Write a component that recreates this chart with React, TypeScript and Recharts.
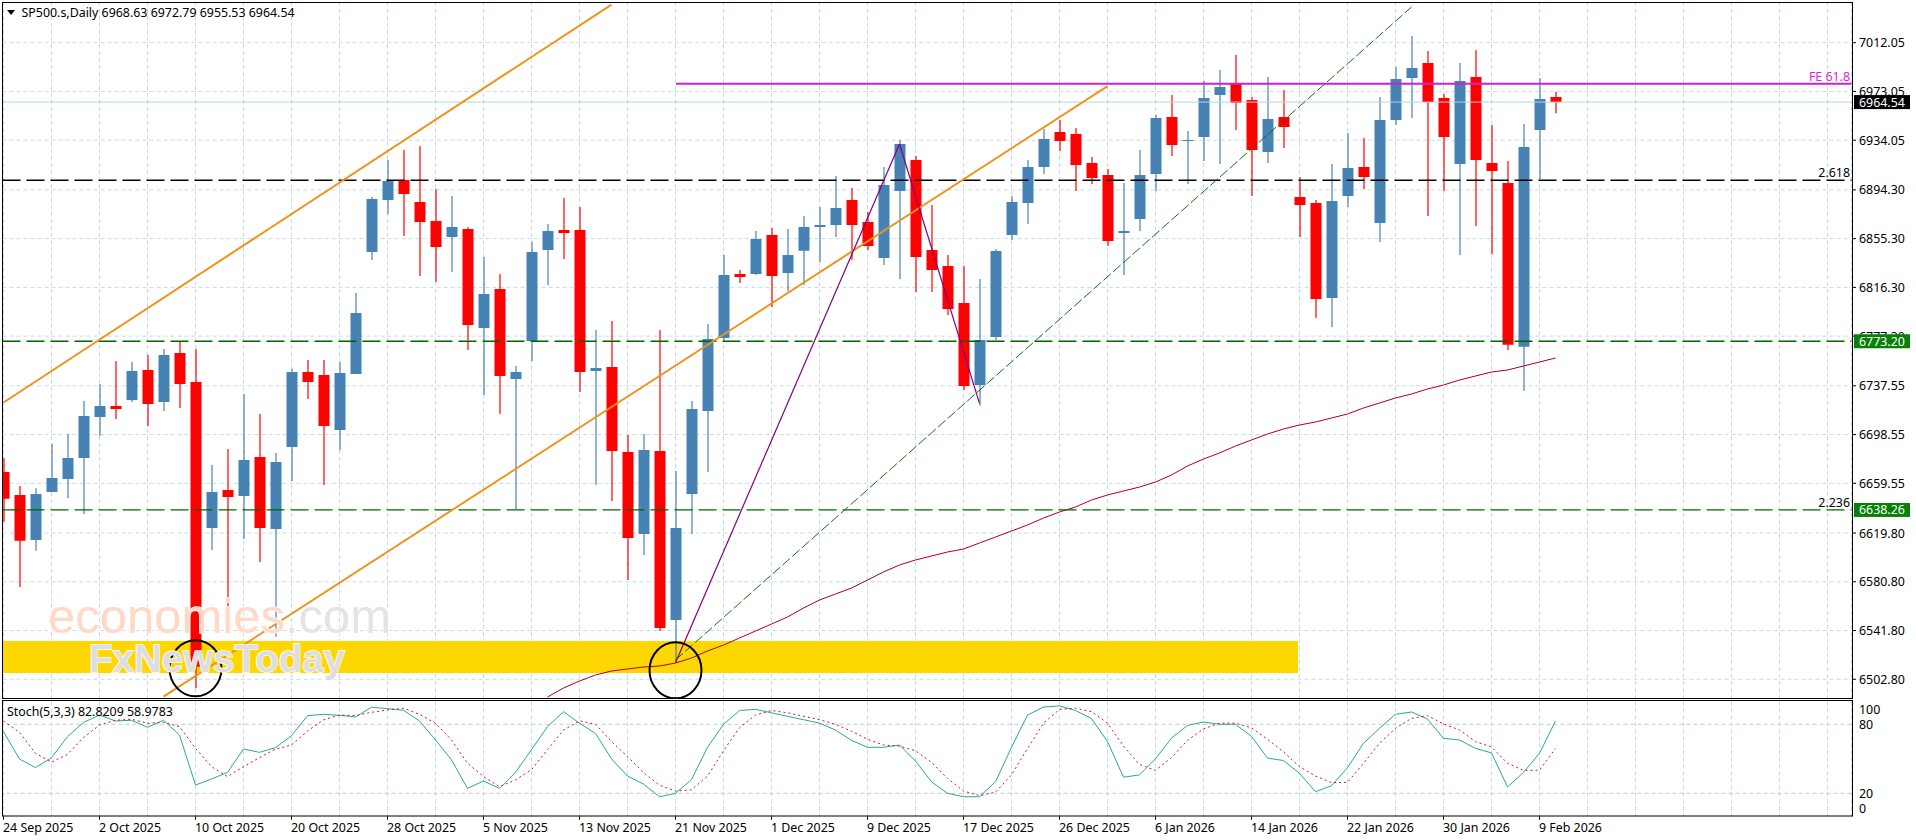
import {
  ComposedChart, Bar, Line, XAxis, YAxis, CartesianGrid, ReferenceLine, ReferenceArea, ReferenceDot,
} from "recharts"

const FONT = "'Noto Sans', sans-serif"
const GRID_COLOR = "#C4DDE5"
const UP_COLOR = "#4682B4"
const DOWN_COLOR = "#FF0000"

const BAR_SLOTS = 116
const GRID_EVERY = 3
const LABEL_EVERY = 6
const MA_START = 34

const dateLabels = [
  "24 Sep 2025", "2 Oct 2025", "10 Oct 2025", "20 Oct 2025", "28 Oct 2025", "5 Nov 2025",
  "13 Nov 2025", "21 Nov 2025", "1 Dec 2025", "9 Dec 2025", "17 Dec 2025", "26 Dec 2025",
  "6 Jan 2026", "14 Jan 2026", "22 Jan 2026", "30 Jan 2026", "9 Feb 2026",
]

const priceTicks = [
  7012.05, 6973.05, 6934.05, 6894.3, 6855.3, 6816.3, 6777.3, 6737.55, 6698.55, 6659.55, 6619.8, 6580.8, 6541.8, 6502.8,
]
const stochTicks = [0, 20, 80, 100]

const opens = [
  6668.6, 6650.2, 6614.2, 6652.6, 6663.0, 6679.8, 6712.6, 6721.4, 6726.2, 6750.2,
  6724.6, 6763.8, 6740.6, 6623.8, 6654.2, 6649.4, 6680.6, 6623.0, 6688.6, 6748.6,
  6746.2, 6702.2, 6747.0, 6844.6, 6886.2, 6902.2, 6884.6, 6869.4, 6856.6, 6863.0,
  6783.8, 6815.0, 6743.0, 6773.4, 6846.2, 6862.2, 6862.2, 6749.4, 6752.6, 6684.6,
  6619.0, 6685.4, 6550.2, 6651.0, 6717.4, 6775.8, 6827.0, 6827.0, 6858.2, 6827.8,
  6845.6, 6864.6, 6866.2, 6886.2, 6868.6, 6839.8, 6893.4, 6918.2, 6846.2, 6833.4,
  6803.8, 6738.2, 6776.6, 6858.2, 6883.8, 6912.6, 6940.6, 6939.0, 6915.8, 6906.2,
  6859.8, 6871.0, 6907.0, 6952.6, 6933.6, 6936.6, 6970.2, 6979.0, 6966.2, 6924.6,
  6952.6, 6888.6, 6883.8, 6807.8, 6889.4, 6912.6, 6867.8, 6950.2, 6983.8, 6995.8,
  6967.8, 6915.0, 6984.6, 6915.8, 6899.8, 6768.8, 6942.2, 6968.63,
]
const highs = [
  6679.6, 6657.4, 6655.6, 6691.0, 6699.0, 6725.4, 6739.0, 6757.4, 6756.8, 6762.2,
  6767.0, 6773.4, 6767.0, 6674.2, 6687.0, 6731.0, 6715.0, 6683.8, 6751.0, 6758.2,
  6758.2, 6756.6, 6811.8, 6888.8, 6918.2, 6926.2, 6929.4, 6895.0, 6889.4, 6864.6,
  6840.6, 6827.0, 6753.4, 6852.6, 6867.0, 6887.8, 6880.6, 6782.2, 6789.4, 6698.2,
  6699.0, 6782.2, 6669.4, 6725.4, 6787.0, 6842.2, 6830.2, 6861.4, 6863.8, 6863.0,
  6873.4, 6880.6, 6905.4, 6895.8, 6876.6, 6912.6, 6934.2, 6921.4, 6882.2, 6842.2,
  6833.4, 6823.0, 6847.0, 6889.4, 6918.2, 6943.0, 6950.2, 6943.8, 6920.6, 6911.0,
  6899.8, 6926.2, 6954.2, 6970.2, 6941.4, 6981.4, 6990.2, 7002.2, 6968.6, 6984.6,
  6974.2, 6904.6, 6886.2, 6915.0, 6939.8, 6935.8, 6968.6, 6992.6, 7017.4, 7005.4,
  6971.0, 6995.8, 7006.2, 6946.2, 6917.4, 6947.0, 6983.8, 6972.79,
]
const lows = [
  6628.8, 6576.6, 6605.6, 6652.6, 6647.8, 6635.0, 6697.4, 6711.0, 6724.6, 6705.4,
  6717.4, 6719.8, 6495.8, 6606.2, 6560.8, 6615.0, 6596.6, 6536.8, 6661.4, 6727.0,
  6658.2, 6686.2, 6747.0, 6838.2, 6875.0, 6857.4, 6825.4, 6820.6, 6828.6, 6766.2,
  6730.2, 6715.0, 6639.0, 6757.4, 6818.2, 6839.0, 6732.6, 6658.2, 6645.4, 6582.2,
  6602.2, 6541.4, 6516.0, 6619.0, 6668.6, 6772.6, 6819.8, 6826.2, 6800.6, 6813.4,
  6818.2, 6836.6, 6856.6, 6838.2, 6846.2, 6834.2, 6823.0, 6812.6, 6812.6, 6794.2,
  6734.2, 6721.7, 6774.2, 6854.2, 6867.0, 6907.0, 6925.4, 6893.4, 6899.0, 6849.4,
  6826.2, 6861.4, 6893.4, 6921.4, 6899.0, 6917.4, 6915.0, 6942.2, 6889.4, 6915.8,
  6927.8, 6856.6, 6791.8, 6784.6, 6880.6, 6895.0, 6852.6, 6946.2, 6951.8, 6873.4,
  6893.4, 6842.2, 6865.4, 6843.0, 6766.2, 6733.4, 6903.0, 6955.53,
]
const closes = [
  6647.2, 6613.6, 6651.0, 6663.8, 6679.8, 6713.4, 6721.4, 6719.0, 6749.4, 6723.0,
  6762.2, 6739.0, 6512.8, 6652.6, 6648.6, 6678.2, 6623.8, 6676.6, 6748.6, 6740.6,
  6705.4, 6747.8, 6795.8, 6887.0, 6901.4, 6891.0, 6868.6, 6848.6, 6864.6, 6786.2,
  6811.0, 6745.4, 6748.6, 6844.6, 6861.4, 6859.8, 6748.6, 6751.8, 6685.4, 6615.8,
  6686.2, 6543.8, 6623.8, 6719.0, 6775.0, 6826.2, 6824.6, 6855.0, 6825.4, 6842.2,
  6864.6, 6866.2, 6879.8, 6866.2, 6849.4, 6898.2, 6931.0, 6840.6, 6830.2, 6799.0,
  6737.4, 6774.2, 6845.4, 6884.6, 6912.6, 6935.0, 6933.4, 6914.2, 6903.8, 6853.4,
  6861.4, 6906.2, 6951.8, 6930.2, 6934.2, 6967.8, 6976.6, 6963.8, 6926.2, 6951.0,
  6944.6, 6882.2, 6807.0, 6885.4, 6911.8, 6904.6, 6950.2, 6983.0, 6991.8, 6964.6,
  6936.6, 6981.4, 6918.2, 6909.4, 6770.4, 6928.6, 6967.0, 6964.54,
]

// moving average, only on screen from MA_START on
const maValues = [
  6488.6, 6495.8, 6501.4, 6506.2, 6509.4, 6511.0, 6512.6, 6513.4, 6515.8, 6519.8,
  6525.4, 6530.2, 6535.8, 6541.4, 6547.0, 6552.6, 6559.8, 6566.2, 6571.0, 6575.8,
  6582.2, 6588.6, 6594.2, 6598.2, 6601.4, 6604.6, 6607.0, 6611.8, 6616.6, 6621.4,
  6626.2, 6631.8, 6636.6, 6640.6, 6646.2, 6650.2, 6653.4, 6656.6, 6660.6, 6666.2,
  6673.4, 6679.0, 6683.8, 6689.4, 6694.2, 6699.0, 6703.0, 6706.2, 6708.6, 6711.8,
  6715.0, 6719.8, 6723.8, 6727.8, 6731.0, 6735.0, 6738.2, 6742.2, 6745.4, 6748.6,
  6750.2, 6753.4, 6756.6, 6759.8,
]

const stochK = [
  73.6, 49.8, 42.3, 51, 69.3, 81.7, 88, 82.9, 83.5, 77.4,
  83.5, 70.7, 27.2, 32.4, 38.2, 58.5, 55.6, 59.7, 70.1, 87.5,
  88.7, 87.8, 86.4, 94.8, 93.6, 92.2, 82.9, 66.4, 49, 24.3,
  30.7, 24.3, 38.2, 58, 78, 91, 81, 72, 50, 35,
  28, 17, 20, 32, 60, 80, 92, 93, 90, 87,
  84, 81, 75, 66, 60, 60, 62, 48, 30, 20,
  17, 17, 30, 60, 88, 95, 96, 92, 85, 65,
  34, 36, 50, 68, 79, 82, 80, 80, 69.5, 50.6,
  48.5, 37.4, 21.4, 26.6, 42.3, 63.5, 76.5, 88.7, 90.7, 84.6,
  67.8, 66.4, 59.1, 55.1, 25.5, 38.2, 54.8, 82.82,
]
const stochD = [
  82.9, 73, 54.8, 47, 53.9, 68.4, 79.4, 83.5, 84.4, 80.9,
  81.7, 78, 59.1, 43.2, 34.5, 43.2, 51, 58.5, 62, 74.2,
  83.8, 88.1, 87.5, 90.4, 92.5, 93.9, 88.7, 80.9, 66.4, 46.1,
  34.5, 25.8, 31.6, 40.5, 58, 75, 83, 80, 65, 52,
  38, 27, 22, 23, 35, 57, 77, 88, 92, 90,
  87, 84, 80, 74, 67, 62, 61, 57, 47, 33,
  22, 18, 21, 36, 59, 81, 93, 94, 91, 81,
  61, 45, 40, 51, 66, 76, 81, 81, 77, 67,
  56, 43.2, 35, 29.3, 29.5, 46.1, 63.5, 76.5, 85.2, 87.5,
  80.3, 75.1, 64.9, 60.3, 46.1, 40, 40, 58.98,
]

const lastPrice = 6964.54
const level2618 = 6902
const level2236 = 6638.26
const level6773 = 6773.2
const levelFE = 6979.25

// tags sit after the plain ticks so they paint over them
const tagColors: Record<number, string> = {
  [lastPrice]: "#000",
  [level6773]: "#087F08",
  [level2236]: "#087F08",
}
const axisTicks = [...priceTicks, lastPrice, level6773, level2236]

const rows = Array.from({ length: BAR_SLOTS }, (_, i) => ({
  i,
  open: opens[i],
  high: highs[i],
  low: lows[i],
  close: closes[i],
  range: highs[i] != null ? [lows[i], highs[i]] : null,
  ma: i >= MA_START ? maValues[i - MA_START] : null,
  k: stochK[i],
  d: stochD[i],
}))

const gridTicks = rows.filter(r => r.i % GRID_EVERY === 0).map(r => r.i)

function Candle(props: any) {
  const { x, y, width, height, payload } = props
  const d = payload || props
  if (d.open == null || !height) return null
  const up = d.close >= d.open
  const color = up ? UP_COLOR : DOWN_COLOR
  const perUnit = height / (d.high - d.low)
  const top = y + (d.high - Math.max(d.open, d.close)) * perUnit
  const bodyH = Math.abs(d.open - d.close) * perUnit
  const cx = x + width / 2
  return (
    <g>
      <line x1={cx} x2={cx} y1={y} y2={y + height} stroke={color} strokeWidth={1.2} />
      <rect x={x} y={top} width={width} height={Math.max(bodyH, 1)} fill={color} />
    </g>
  )
}

function PriceTick({ x, y, payload }: any) {
  const tag = tagColors[payload.value]
  if (tag) {
    return (
      <g>
        <rect x={x + 2.5} y={y - 7} width={56} height={14} fill={tag} />
        <text x={x + 7.5} y={y + 4.5} fontSize={12.4} fontFamily={FONT} fill="#fff">{payload.value.toFixed(2)}</text>
      </g>
    )
  }
  return (
    <g>
      <line x1={x + 1} x2={x + 4.5} y1={y} y2={y} stroke="#000" />
      <text x={x + 7.5} y={y + 4.5} fontSize={12.4} fontFamily={FONT} fill="#000">{payload.value.toFixed(2)}</text>
    </g>
  )
}

function StochTick({ x, y, payload }: any) {
  const shift = payload.value === 100 ? 8 : payload.value === 0 ? -8 : 0
  return (
    <text x={x + 7.5} y={y + 4.5 + shift} fontSize={12.4} fontFamily={FONT} fill="#000">{payload.value}</text>
  )
}

function DateTick({ x, y, payload }: any) {
  if (payload.value % LABEL_EVERY !== 0) return null
  const label = dateLabels[payload.value / LABEL_EVERY]
  if (!label) return null
  return (
    <g>
      <line x1={x} x2={x} y1={y} y2={y + 3.5} stroke="#000" />
      <text x={x - 0.5} y={y + 16} fontSize={12.4} fontFamily={FONT} fill="#000">{label}</text>
    </g>
  )
}

function levelCaption(caption: string, color: string) {
  return (props: any) => {
    const vb = props.viewBox
    if (!vb) return null
    return (
      <text x={vb.x + vb.width - 1.5} y={vb.y - 3} textAnchor="end" fontSize={12.4} fontFamily={FONT} fill={color}>{caption}</text>
    )
  }
}

function Ring({ cx, cy }: any) {
  return <ellipse cx={cx} cy={cy} rx={26} ry={28} fill="none" stroke="#000" strokeWidth={2} />
}

// band stops part way through its last bar
function Band({ x, y, width, height }: any) {
  return <rect x={x} y={y} width={width - 9.5} height={height} fill="#FFD700" />
}

export default function App() {
  return (
    <div style={{ position: "fixed", left: 0, top: 0, width: 1916, height: 840, background: "#fff", overflow: "hidden" }}>
      <div style={{ position: "absolute", left: -10, top: 0 }}>
        <ComposedChart width={1926} height={698} data={rows} margin={{ top: 2, right: 0, bottom: 0, left: 5.5 }} barSize={11}>
          <XAxis dataKey="i" type="category" scale="band" ticks={gridTicks} interval={0} hide />
          <YAxis
            orientation="right" width={64.5} domain={[6487.81, 7044.61]} ticks={axisTicks} interval={0}
            axisLine={false} tickLine={false} tickSize={0} tickMargin={0} tick={<PriceTick />} allowDataOverflow
          />
          <CartesianGrid stroke={GRID_COLOR} strokeDasharray="4 3" horizontalValues={priceTicks} />
          <ReferenceArea x1={0} x2={81} y1={6533.4} y2={6507.8} shape={Band} ifOverflow="visible" />
          <ReferenceLine y={lastPrice} stroke="#ADD8E6" />
          <Bar dataKey="range" shape={Candle} isAnimationActive={false} />
          <Line dataKey="ma" stroke="#B00020" strokeWidth={1} dot={false} isAnimationActive={false} />
          <ReferenceLine y={level2618} stroke="#000" strokeWidth={1.3} strokeDasharray="18 6" strokeDashoffset={17} label={levelCaption("2.618", "#000")} />
          <ReferenceLine y={level6773} stroke="#006400" strokeWidth={1.3} strokeDasharray="18 6" strokeDashoffset={17} />
          <ReferenceLine y={level2236} stroke="#006400" strokeWidth={1.3} strokeDasharray="18 6" strokeDashoffset={17} label={levelCaption("2.236", "#000")} />
          <ReferenceLine y={levelFE} stroke="#CC22CC" strokeWidth={2} strokeDasharray="1175.5 2000" label={levelCaption("FE 61.8", "#E020E0")} />
          <ReferenceLine segment={[{ x: 0, y: 6724.2 }, { x: 38, y: 7042.5 }]} stroke="#F0921E" strokeWidth={2} ifOverflow="visible" />
          <ReferenceLine segment={[{ x: 10, y: 6488.9 }, { x: 69, y: 6977.25 }]} stroke="#F0921E" strokeWidth={2} ifOverflow="visible" />
          <ReferenceLine segment={[{ x: 42, y: 6516 }, { x: 56, y: 6931 }]} stroke="#800080" strokeWidth={1.2} ifOverflow="visible" />
          <ReferenceLine segment={[{ x: 56, y: 6931 }, { x: 61, y: 6723.5 }]} stroke="#800080" strokeWidth={1.2} ifOverflow="visible" />
          <ReferenceLine segment={[{ x: 42, y: 6518.2 }, { x: 88, y: 7040.6 }]} stroke="#1A6A1A" strokeWidth={1} strokeDasharray="10 3" ifOverflow="visible" />
          <ReferenceDot x={12} y={6511.6} shape={Ring} ifOverflow="visible" />
          <ReferenceDot x={42} y={6510} shape={Ring} ifOverflow="visible" />
        </ComposedChart>
      </div>

      <div style={{ position: "absolute", left: -10, top: 700 }}>
        <ComposedChart width={1926} height={140} data={rows} margin={{ top: 1.3, right: 0, bottom: 0, left: 5.5 }}>
          <XAxis
            dataKey="i" type="category" scale="band" ticks={gridTicks} interval={0} height={23.7}
            axisLine={false} tickLine={false} tickSize={0} tickMargin={0} tick={<DateTick />}
          />
          <YAxis
            orientation="right" width={64.5} domain={[0, 100]} ticks={stochTicks} interval={0}
            axisLine={false} tickLine={false} tickSize={0} tickMargin={0} tick={<StochTick />}
          />
          <CartesianGrid stroke={GRID_COLOR} strokeDasharray="4 3" horizontal={false} />
          <ReferenceLine y={80} stroke="#C8C8C8" strokeDasharray="4 3" />
          <ReferenceLine y={20} stroke="#C8C8C8" strokeDasharray="4 3" />
          <Line dataKey="k" stroke="#2BA5A0" strokeWidth={1} dot={false} isAnimationActive={false} />
          <Line dataKey="d" stroke="#D01030" strokeWidth={1} strokeDasharray="2 3" dot={false} isAnimationActive={false} />
        </ComposedChart>
      </div>

      <svg width={1916} height={840} style={{ position: "absolute", left: 0, top: 0, pointerEvents: "none" }}>
        <rect x={0} y={0} width={2} height={840} fill="#fff" />
        <rect x={2.5} y={2.5} width={1850} height={696} fill="none" stroke="#000" />
        <rect x={2.5} y={700.5} width={1850} height={115.5} fill="none" stroke="#000" />
        <path d="M7 10 H15 L11 15 Z" fill="#000" />
        <text x={21.5} y={17} fontSize={12.4} fontFamily={FONT} fill="#000">SP500.s,Daily  6968.63 6972.79 6955.53 6964.54</text>
        <text x={7} y={716} fontSize={12.4} fontFamily={FONT} fill="#000">Stoch(5,3,3) 82.8209 58.9783</text>
        <g fontFamily="'Liberation Sans', sans-serif" stroke="#fff" strokeWidth={1.5} style={{ paintOrder: "stroke" }}>
          <text x={48} y={633} fontSize={49} fill="#FFD9C6">economies<tspan fill="#E4E4E4">.com</tspan></text>
          <text x={89} y={672} fontSize={38.5} fontWeight="bold" fill="#DEDEDE">FxNewsToday</text>
        </g>
      </svg>
    </div>
  )
}
